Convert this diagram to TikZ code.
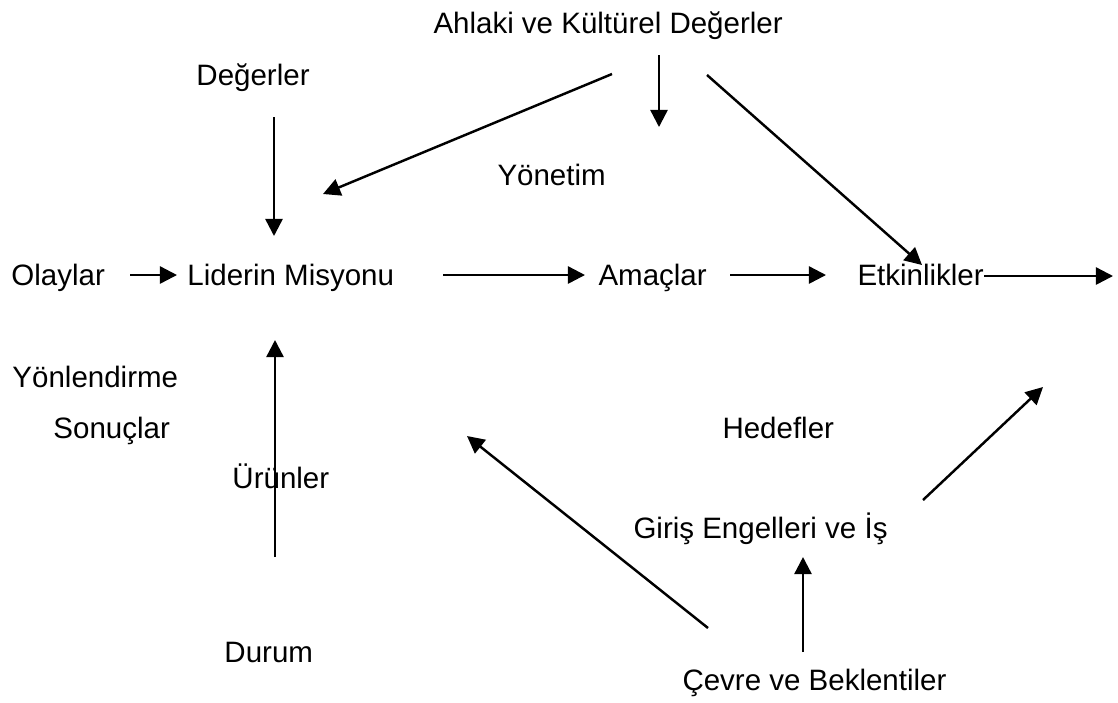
\documentclass[tikz,border=0pt]{standalone}
\usepackage{fontspec}
\setmainfont{Liberation Sans}
\usetikzlibrary{arrows.meta}

\begin{document}
\begin{tikzpicture}[x=0.0143cm, y=-0.0143cm,
		lbl/.style={anchor=base west, inner sep=0pt, font=\fontsize{12}{14}\selectfont},
		arr/.style={line width=1pt, -{Triangle[length=7pt, width=7pt]}}]
		%%%%% START %%%%%
		\useasboundingbox (0,0) rectangle (1118,702);
		
		% labels
		\node[lbl] (ahlaki) at (433,33) {Ahlaki ve Kültürel Değerler};
		\node[lbl] (degerler) at (196,85) {Değerler};
		\node[lbl] (yonetim) at (497,185) {Yönetim};
		
		\node[lbl] (olaylar) at (11,285) {Olaylar};
		\node[lbl] (misyon) at (187,285) {Liderin Misyonu};
		\node[lbl] (amaclar) at (598,285) {Amaçlar};
		\node[lbl] (etkinlik) at (857,285) {Etkinlikler};
		
		\node[lbl] (yonlendirme) at (12,387) {Yönlendirme};
		\node[lbl] (sonuclar) at (53,438) {Sonuçlar};
		\node[lbl] (hedefler) at (722,438) {Hedefler};
		\node[lbl] (urunler) at (232,488) {Ürünler};
		\node[lbl] (giris) at (633,538) {Giriş Engelleri ve İş};
		\node[lbl] (durum) at (224,662) {Durum};
		\node[lbl] (cevre) at (682,690) {Çevre ve Beklentiler};
		
		% arrow ends
		\coordinate (d1) at (274,117);  \coordinate (d2) at (274,236);
		\coordinate (k1) at (612,74);   \coordinate (k2) at (323,194);
		\coordinate (y1) at (659,55);   \coordinate (y2) at (659,127);
		\coordinate (e1) at (707,75);   \coordinate (e2) at (922,265);
		\coordinate (o1) at (130,275);  \coordinate (o2) at (177,275);
		\coordinate (m1) at (443,275);  \coordinate (m2) at (585,275);
		\coordinate (a1) at (730,275);  \coordinate (a2) at (826,275);
		\coordinate (t2) at (1113,276);
		\coordinate (u1) at (275,557);  \coordinate (u2) at (275,340);
		\coordinate (s1) at (708,628);  \coordinate (s2) at (467,436);
		\coordinate (h1) at (923,500);  \coordinate (h2) at (1043,387);
		\coordinate (g1) at (803,652);  \coordinate (g2) at (803,557);
		
		% arrows
		\draw[arr] (d1) -- (d2);
		\draw[arr] (k1) -- (k2);
		\draw[arr] (y1) -- (y2);
		\draw[arr] (e1) -- (e2);
		\draw[arr] (o1) -- (o2);
		\draw[arr] (m1) -- (m2);
		\draw[arr] (a1) -- (a2);
		\draw[arr] (etkinlik.east |- t2) -- (t2);
		\draw[arr] (u1) -- (u2);
		\draw[arr] (s1) -- (s2);
		\draw[arr] (h1) -- (h2);
		\draw[arr] (g1) -- (g2);
		
		%%%%% END %%%%%
	\end{tikzpicture}
\end{document}
